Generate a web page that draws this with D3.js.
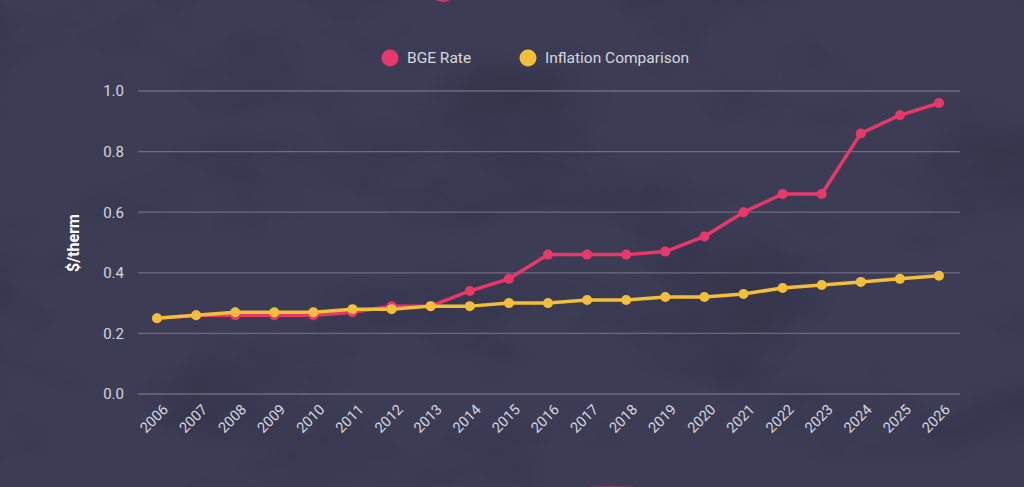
<!DOCTYPE html>
<html>
<head>
<meta charset="utf-8">
<script src="https://cdn.jsdelivr.net/npm/d3@7"></script>
<style>
  html, body { margin: 0; padding: 0; background: #3a3b52; }
  svg { display: block; }
</style>
</head>
<body>
<svg width="1024" height="487"></svg>
<script>
// data
var years = ["2006","2007","2008","2009","2010","2011","2012","2013","2014","2015","2016",
  "2017","2018","2019","2020","2021","2022","2023","2024","2025","2026"];
var bgeRate = [0.25,0.26,0.26,0.26,0.26,0.27,0.29,0.29,0.34,0.38,0.46,
  0.46,0.46,0.47,0.52,0.60,0.66,0.66,0.86,0.92,0.96];
var inflation = [0.25,0.26,0.27,0.27,0.27,0.28,0.28,0.29,0.29,0.30,0.30,
  0.31,0.31,0.32,0.32,0.33,0.35,0.36,0.37,0.38,0.39];
var yTicks = [0.0, 0.2, 0.4, 0.6, 0.8, 1.0];
var seriesNames = ["BGE Rate", "Inflation Comparison"];
var seriesColors = ["#e8386a", "#f2bf3a"];

var svg = d3.select("svg"),
  width = 1024,
  height = 487;

var margin = {left: 138, right: 64, top: 91, bottom: 93};

// background, darker blotches like crumpled paper
var defs = svg.append("defs");
var f = defs.append("filter").attr("id", "paper")
  .attr("x", 0).attr("y", 0).attr("width", "100%").attr("height", "100%")
  .attr("color-interpolation-filters", "sRGB");
f.append("feTurbulence").attr("type", "fractalNoise")
  .attr("baseFrequency", "0.005 0.009").attr("numOctaves", 4).attr("seed", 3)
  .attr("result", "noise");
f.append("feColorMatrix").attr("in", "noise").attr("type", "matrix")
  .attr("values", "0 0 0 0 0.17  0 0 0 0 0.17  0 0 0 0 0.25  0 0 0 -2.2 1.15");

svg.append("rect").attr("width", width).attr("height", height).attr("fill", "#3c3d55");
svg.append("rect").attr("width", width).attr("height", height)
  .attr("filter", "url(#paper)").attr("opacity", 0.6);

// bits of pink decoration cut off at top and bottom
svg.append("ellipse").attr("cx", 443).attr("cy", -1).attr("rx", 7).attr("ry", 3).attr("fill", "#e8386a").attr("opacity", 0.8);
svg.append("ellipse").attr("cx", 612).attr("cy", 488).attr("rx", 26).attr("ry", 2).attr("fill", "#e8386a").attr("opacity", 0.45);

var x = d3.scalePoint()
  .domain(years)
  .range([157, 939]);

var y = d3.scaleLinear()
  .domain([0, 1])
  .range([394, 91]);

// grid
var grid = svg.append("g").attr("class", "grid");
grid.selectAll("line")
  .data(yTicks)
  .enter().append("line")
  .attr("x1", margin.left)
  .attr("x2", width - margin.right)
  .attr("y1", d => y(d))
  .attr("y2", d => y(d))
  .attr("stroke", "#8a8ca0")
  .attr("stroke-opacity", 0.6)
  .attr("stroke-width", 1.3);

// y axis
var yAxis = svg.append("g")
  .attr("transform", "translate(" + margin.left + ",0)")
  .call(d3.axisLeft(y).tickValues(yTicks).tickFormat(d3.format(".1f")).tickSize(0).tickPadding(14));
yAxis.select(".domain").remove();
yAxis.selectAll("text")
  .attr("fill", "#d6d6de")
  .style("font-family", "Roboto, sans-serif")
  .style("font-size", "15px");

// x axis
var xAxis = svg.append("g")
  .attr("transform", "translate(0," + 394 + ")")
  .call(d3.axisBottom(x).tickSize(0).tickPadding(0));
xAxis.select(".domain").remove();
xAxis.selectAll("text")
  .attr("fill", "#d6d6de")
  .style("font-family", "Roboto, sans-serif")
  .style("font-size", "14.5px")
  .attr("text-anchor", "end")
  .attr("dy", "0.35em")
  .attr("transform", "translate(8,13) rotate(-45)");

// y title
svg.append("text")
  .attr("transform", "translate(79,243) rotate(-90)")
  .attr("text-anchor", "middle")
  .attr("fill", "#ffffff")
  .style("font-family", "Roboto, sans-serif")
  .style("font-weight", "bold")
  .style("font-size", "16px")
  .text("$/therm");

// lines
var line = d3.line()
  .x((d, i) => x(years[i]))
  .y(d => y(d));

var seriesData = [bgeRate, inflation];

var series = svg.append("g").attr("class", "series")
  .selectAll("g")
  .data(seriesData)
  .enter().append("g");

series.append("path")
  .attr("d", d => line(d))
  .attr("fill", "none")
  .attr("stroke", (d, i) => seriesColors[i])
  .attr("stroke-width", 3.5)
  .attr("stroke-linejoin", "round");

series.selectAll("circle")
  .data((d, i) => d.map(v => ({v: v, s: i})))
  .enter().append("circle")
  .attr("cx", (d, i) => x(years[i]))
  .attr("cy", d => y(d.v))
  .attr("r", 5)
  .attr("fill", d => seriesColors[d.s]);

// legend
var legendX = [390, 528];
var legend = svg.append("g").attr("class", "legend")
  .selectAll("g")
  .data(seriesNames)
  .enter().append("g")
  .attr("transform", (d, i) => "translate(" + legendX[i] + ",58)");

legend.append("circle")
  .attr("r", 8.5)
  .attr("fill", (d, i) => seriesColors[i]);

legend.append("text")
  .attr("x", 17)
  .attr("dy", "0.35em")
  .attr("fill", "#d6d6de")
  .style("font-family", "Roboto, sans-serif")
  .style("font-size", "15.5px")
  .text(d => d);
</script>
</body>
</html>
